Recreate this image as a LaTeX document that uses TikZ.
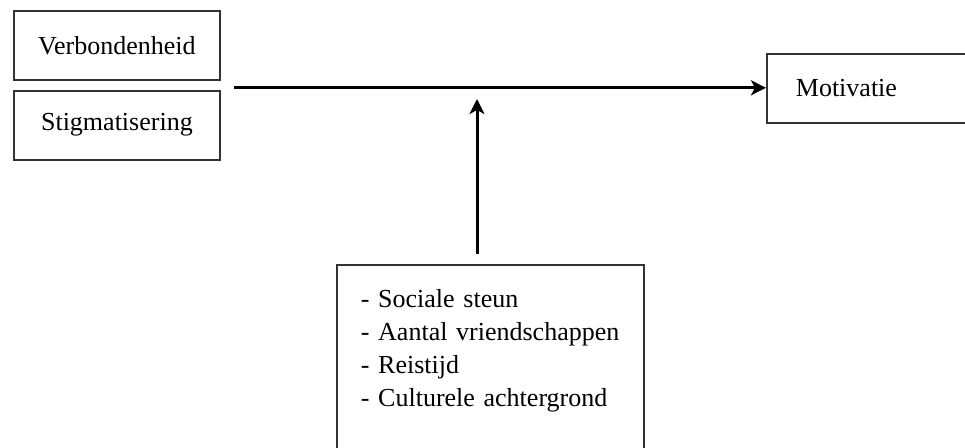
\documentclass[tikz,border=0pt]{standalone}
\usepackage{fontspec}
\setmainfont{Liberation Serif}
\usetikzlibrary{arrows.meta,positioning}
\tikzstyle{boxNode} = [rectangle, draw=black!80, line width=0.9pt, minimum width=103pt, minimum height=34.5pt, inner sep=0pt, text centered, font=\fontsize{13pt}{16.5pt}\selectfont]
\tikzstyle{motNode} = [boxNode, text width=80pt, inner xsep=14.5pt, align=left]
\tikzstyle{listNode} = [rectangle, draw=black!80, line width=0.9pt, anchor=north west, text width=129.5pt, inner xsep=12pt, inner ysep=12.5pt, align=left, font=\fontsize{13pt}{16.5pt}\selectfont]
\tikzstyle{arrow} = [line width=1.5pt, -{Stealth[length=7.5pt,width=7.5pt,inset=2pt]}, draw=black]

\begin{document}
\begin{tikzpicture}[x=0.5pt,y=-0.5pt]
    \path[use as bounding box, clip] (0,0) rectangle (965,448);
    \node (verb) [boxNode, anchor=north west] at (13,10) {Verbondenheid};
    \node (stig) [boxNode, below=4.5pt of verb] {Stigmatisering};
    \node (mot) [motNode, anchor=north west] at (766,53) {Motivatie};
    \node (mods) [listNode] at (336,264) {- Sociale steun\\- Aantal vriendschappen\\- Reistijd\\- Culturele achtergrond\\[30pt]\mbox{}};
    \coordinate (meet) at (477,99);

    \draw [arrow, shorten <=6.5pt] ([yshift=1pt]stig.north east) -- ([yshift=1pt]stig.north east -| mot.west);
    \draw [arrow, shorten <=5pt] (meet |- mods.north) -- (meet);
\end{tikzpicture}
\end{document}
